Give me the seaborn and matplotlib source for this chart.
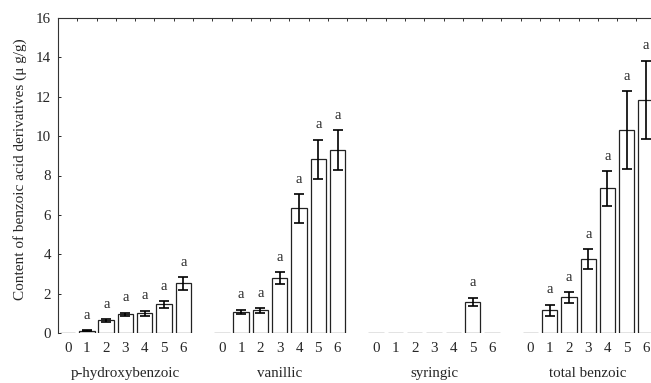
import numpy as np
import pandas as pd
import matplotlib
matplotlib.use("Agg")
import matplotlib.pyplot as plt
import seaborn as sns

groups = ["p-hydroxybenzoic", "vanillic", "syringic", "total benzoic"]
levels = ["0", "1", "2", "3", "4", "5", "6"]

p_hydroxy = [0.0, 0.12, 0.65, 0.95, 1.0, 1.46, 2.52]
p_hydroxy_err = [0.0, 0.03, 0.07, 0.09, 0.13, 0.17, 0.32]
vanillic = [0.0, 1.07, 1.15, 2.79, 6.33, 8.82, 9.29]
vanillic_err = [0.0, 0.12, 0.12, 0.32, 0.72, 1.0, 1.0]
syringic = [0.0, 0.0, 0.0, 0.0, 0.0, 1.57, 0.0]
syringic_err = [0.0, 0.0, 0.0, 0.0, 0.0, 0.22, 0.0]
total = [0.0, 1.15, 1.81, 3.76, 7.35, 10.3, 11.85]
total_err = [0.0, 0.29, 0.28, 0.5, 0.89, 1.97, 1.98]

letters_p = ["", "a", "a", "a", "a", "a", "a"]
letters_v = ["", "a", "a", "a", "a", "a", "a"]
letters_s = ["", "", "", "", "", "a", ""]
letters_t = ["", "a", "a", "a", "a", "a", "a"]

values = [p_hydroxy, vanillic, syringic, total]
errors = [p_hydroxy_err, vanillic_err, syringic_err, total_err]
letters = [letters_p, letters_v, letters_s, letters_t]

GROUP_STEP = 8
rows = []
for g, name in enumerate(groups):
    for i, lev in enumerate(levels):
        rows.append({"group": name, "level": lev, "pos": g * GROUP_STEP + i,
                     "value": values[g][i], "err": errors[g][i], "letter": letters[g][i]})
df = pd.DataFrame(rows)

sns.set_style("ticks")
plt.rcParams["font.family"] = ["Liberation Serif", "DejaVu Serif"]

fig = plt.figure(figsize=(6.51, 3.83), dpi=100)
ax = fig.add_axes([58 / 651, 50 / 383, (655.7 - 58) / 651, 315 / 383])

sns.barplot(data=df, x="pos", y="value", native_scale=True, width=0.8,
            color="white", edgecolor="#222222", linewidth=0.9, errorbar=None, ax=ax)

mask = df["value"] > 0
ax.errorbar(df.loc[mask, "pos"], df.loc[mask, "value"], yerr=df.loc[mask, "err"],
            fmt="none", ecolor="black", elinewidth=1.2, capsize=3.6, capthick=1.2, zorder=5)

for _, r in df.iterrows():
    if r["letter"]:
        ax.text(r["pos"], r["value"] + r["err"] + 0.42, r["letter"], ha="center",
                va="bottom", fontsize=10.5)

ax.set_xlim(-0.5, 30.5)
ax.set_ylim(0, 16)
ax.set_yticks(np.arange(0, 17, 2))
ax.set_xticks(df["pos"])
ax.set_xticklabels(df["level"])
ax.set_xticks(np.arange(0.5, 30, 1.0), minor=True)
ax.tick_params(axis="x", which="major", bottom=True, top=False, length=0, pad=6.5, labelsize=10.8)
ax.tick_params(axis="x", which="minor", bottom=False, top=True, direction="in", length=2.5,
               width=0.7, color="#333333")
ax.tick_params(axis="y", which="major", left=True, direction="in", length=2.5, width=0.7,
               labelsize=10.8, pad=5)

for s in ["bottom", "right"]:
    ax.spines[s].set_visible(False)
for s in ["left", "top"]:
    ax.spines[s].set_linewidth(0.8)
    ax.spines[s].set_color("#333333")

ax.set_xlabel("")
ax.set_ylabel("Content of benzoic acid derivatives (μ g/g)", fontsize=11)
ax.yaxis.set_label_coords(-0.052, 0.52)

for g, name in enumerate(groups):
    ax.annotate(name, xy=(g * GROUP_STEP + 3, 0), xycoords="data",
                xytext=(0, -29), textcoords="offset points", ha="center", va="center",
                fontsize=10.8)

fig.savefig("out.png", dpi=100)
